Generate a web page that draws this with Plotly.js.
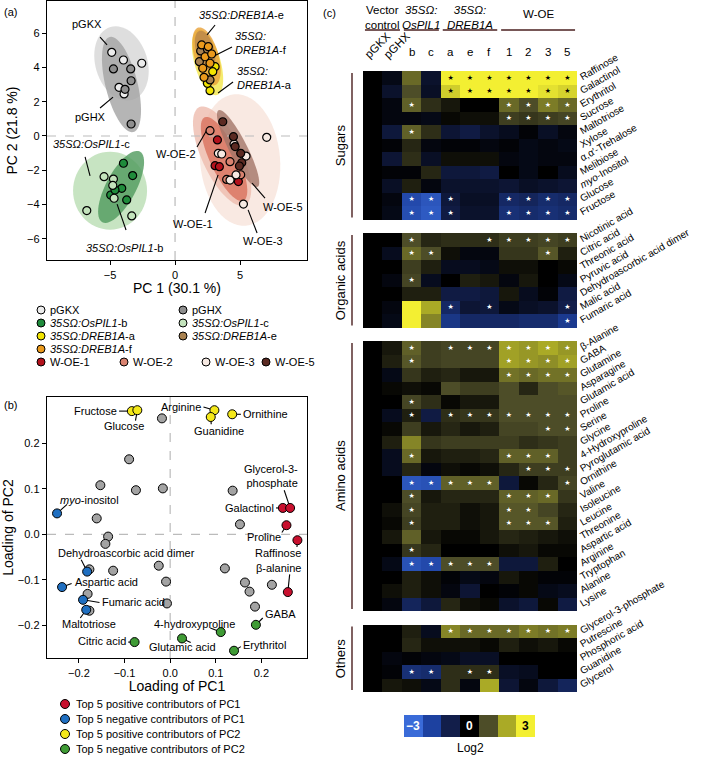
<!DOCTYPE html>
<html>
<head>
<meta charset="utf-8">
<script src="https://cdn.plot.ly/plotly-3.0.1.min.js"></script>
<style>body{margin:0;background:#fff}</style>
</head>
<body>
<div id="fig" style="width:709px;height:757px"></div>
<script>
const W = 709, H = 757;

// ---------- (a) PCA scores ----------
const scoreGroups = ['pGKX', 'pGHX', '<i>35SΩ:OsPIL1</i>-b', '<i>35SΩ:OsPIL1</i>-c',
  '<i>35SΩ:DREB1A</i>-a', '<i>35SΩ:DREB1A</i>-e', '<i>35SΩ:DREB1A</i>-f',
  'W-OE-1', 'W-OE-2', 'W-OE-3', 'W-OE-5'];
const scoreColors = ['#ececec', '#8e8e8e', '#1f8b3b', '#c3e3bc', '#f2e400', '#a8814f', '#eb9a1c',
  '#b3121c', '#d9826f', '#f6e9e2', '#5b2a22'];
const scoreX = [
  [-4.87, -3.97, -2.56, -4.31, -3.92],
  [-4.74, -3.41, -3.38, -3.85, -3.38],
  [-3.97, -3.26, -4.10, -4.95, -3.72, -4.62],
  [-5.46, -4.74, -4.79, -4.69, -6.79, -3.33],
  [3.08, 2.69, 2.49, 2.90],
  [1.97, 2.49, 1.87, 2.69],
  [2.05, 2.56, 2.31, 2.82, 2.69, 2.13, 2.23],
  [3.26, 3.08, 3.41, 4.87],
  [2.69, 4.23, 3.97, 5.05],
  [3.33, 3.59, 4.54, 5.46, 4.69, 5.26, 7.05, 4.23],
  [3.67, 4.49, 4.62, 5.05, 5.13, 4.95]
];
const scoreY = [
  [4.88, 4.43, 4.24, 2.84, 2.45],
  [3.91, 3.91, 3.22, 2.72, 0.70],
  [-1.59, -2.31, -3.05, -3.44, -3.73, -3.15],
  [-2.37, -2.51, -2.88, -3.63, -4.35, -4.66],
  [4.04, 2.64, 3.07, 3.75],
  [4.96, 5.05, 4.33, 3.27],
  [5.31, 5.21, 4.62, 4.78, 4.24, 3.95, 3.42],
  [-0.23, -1.73, -1.79, -2.66],
  [0.31, -1.50, -2.53, -2.26],
  [-1.01, -1.05, -0.47, -1.17, -2.27, -3.97, -0.08, -2.57],
  [0.83, -0.04, -0.62, -1.01, -1.56, -1.75]
];

// ---------- (b) loadings ----------
const posPC1X = [0.247, 0.263, 0.255, 0.279, 0.258];
const posPC1Y = [0.058, 0.058, 0.020, -0.013, -0.127];
const negPC1X = [-0.248, -0.182, -0.237, -0.191, -0.184];
const negPC1Y = [0.046, -0.082, -0.116, -0.144, -0.166];
const posPC2X = [-0.084, -0.072, 0.097, 0.089, 0.136];
const posPC2Y = [0.271, 0.273, 0.273, 0.258, 0.264];
const negPC2X = [-0.078, 0.026, 0.111, 0.140, 0.188];
const negPC2Y = [-0.237, -0.229, -0.215, -0.256, -0.199];
const otherX = [-0.018, -0.090, -0.153, -0.075, -0.016, -0.161, -0.136, -0.142, -0.177, -0.125, -0.025,
  -0.009, -0.181, -0.177, -0.007, 0.137, 0.153, 0.120, 0.164, 0.174, 0.186, 0.223];
const otherY = [0.255, 0.165, 0.108, 0.097, 0.101, 0.035, -0.005, -0.021, -0.077, -0.080, -0.069,
  -0.104, -0.131, -0.168, -0.152, 0.096, 0.022, -0.075, -0.106, -0.126, -0.159, -0.111];
const loadNames = ['Top 5 positive contributors of PC1', 'Top 5 negative contributors of PC1',
  'Top 5 positive contributors of PC2', 'Top 5 negative contributors of PC2'];
const loadColors = ['#c8102e', '#1f6fc1', '#f4e81a', '#3f9b35'];

// ---------- (c) heatmap ----------
const cols = ['pGKX', 'pGHX', 'b', 'c', 'a', 'e', 'f', '1', '2', '3', '5'];
const groupNames = ['Sugars', 'Organic acids', 'Amino acids', 'Others'];

const sugarNames = ['Raffinose', 'Galactinol', 'Erythritol', 'Sucrose', 'Maltotriose', 'Xylose',
  'α,α′-Trehalose', 'Melibiose', '<i>myo</i>-Inositol', 'Glucose', 'Fructose'];
const sugarVals = [
  [0, -0.3, 1.3, -0.6, 3, 3, 3, 3, 3, 3, 3],
  [0, -0.6, 1.0, -0.5, 2.5, 3, 3, 3, 3, 2.8, 2.6],
  [0, -0.2, 1.2, 0.6, 0.3, 0, 0, 1.3, 1.0, 1.5, 1.3],
  [0, -0.2, -0.2, -0.3, 0.1, 0.2, 0.2, 0.8, 0.7, 0.8, 0.9],
  [0, -0.8, 1.2, 0.6, -0.7, -0.9, -0.6, -0.4, -0.1, -0.5, -0.2],
  [0, -0.1, 0.5, -0.2, -0.1, -0.1, -0.2, -0.1, -0.3, -0.2, -0.3],
  [0, -0.7, 0.6, -0.5, 0.2, 0.2, 0.2, -0.2, -0.3, -0.2, -0.2],
  [0, -0.1, -0.1, 0.5, -0.8, -0.8, -0.9, 0, -0.3, 0, -0.4],
  [0, -0.5, 0.4, -0.2, -0.6, -0.6, -0.6, -0.7, -0.5, -0.6, -0.7],
  [0, -0.2, -2.2, -2.5, -0.8, -0.5, -0.5, -1.3, -1.2, -1.4, -1.3],
  [0, -0.3, -2.3, -2.6, -0.9, -0.6, -0.6, -1.5, -1.4, -1.5, -1.4]
];
const sugarStars = ['00001111111', '00001111111', '00100001111', '00000001111', '00100000000',
  '00000000000', '00000000000', '00000000000', '00000000000', '00111001111', '00111001111'];

const organicNames = ['Nicotinic acid', 'Citric acid', 'Threonic acid', 'Pyruvic acid',
  'Dehydroascorbic acid dimer', 'Malic acid', 'Fumaric acid'];
const organicVals = [
  [0, 0, 1.0, 0.5, 0.6, 0.6, 0.6, 0.8, 0.8, 0.9, 0.8],
  [0, -0.4, 1.3, 1.0, 0.2, -0.2, -0.2, 0.7, 0.7, 1.1, 0.4],
  [0, 0, 0.8, 0.4, -0.4, -0.4, -0.3, 0.2, 0.2, 0, 0.1],
  [0, -0.2, 0.9, -0.4, 0, 0.4, 0.3, -0.2, 0.3, 0, -0.3],
  [0, 0, 0.4, 0.4, -0.9, -0.9, -0.8, 0.3, -0.4, -0.1, -0.9],
  [0, -0.2, 3.0, 2.0, -1.3, -0.7, -0.8, -0.3, -0.5, -0.6, -1.0],
  [0, -0.3, 3.0, 1.6, -1.7, -1.3, -1.3, -1.3, -1.4, -1.4, -1.8]
];
const organicStars = ['00100011111', '00110000010', '00000000000', '00100000000', '00000000000',
  '00001010001', '00000000001'];

const aminoNames = ['β-Alanine', 'GABA', 'Glutamine', 'Asparagine', 'Glutamic acid', 'Proline', 'Serine',
  'Glycine', '4-Hydroxyproline', 'Pyroglutamic acid', 'Ornithine', 'Valine', 'Isoleucine', 'Leucine',
  'Threonine', 'Aspartic acid', 'Arginine', 'Tryptophan', 'Alanine', 'Lysine'];
const aminoVals = [
  [0, 0.3, 1.2, 0.8, 0.9, 0.9, 0.9, 1.9, 1.8, 2.0, 1.8],
  [0, 0.4, 1.1, 0.8, 0.9, 0.9, 0.9, 1.9, 1.8, 1.7, 1.9],
  [0, -0.3, 0.7, 0.4, 0.5, 0.3, 0.3, 1.4, 1.3, 1.4, 1.4],
  [0, 0.1, 0.2, 0.1, 1.0, 0.8, 0.8, 1.0, 0.5, 1.0, 1.1],
  [0, 0, 0.9, 0.6, 0.1, 0.3, 0.3, 1.0, 1.0, 1.0, 1.0],
  [0, -0.4, 0.4, -0.9, 0.6, 0.7, 0.7, 1.0, 1.0, 1.0, 1.0],
  [0, 0.1, 0.8, 0.3, 0.5, 0.3, 0.4, 0.9, 0.9, 1.0, 1.0],
  [0, 0.4, 1.6, 0.7, 0.8, 0.8, 0.8, 0.8, 0.6, 0.7, 0.8],
  [0, -0.4, 1.3, 0.3, 0.4, 0.4, 0.5, 1.2, 1.2, 1.2, 0.8],
  [0, -0.4, 0.5, -0.2, 0.2, 0.1, 0.2, 0.5, 0.8, 0.8, 0.8],
  [0, 0, -2.5, -2.4, 1.2, 1.2, 1.2, -0.8, 0.1, 0.5, 0.9],
  [0, 0, 1.0, 0.3, 0.5, 0.5, 0.5, 1.2, 1.2, 1.3, 0.7],
  [0, 0.2, 0.9, 0.4, 0.4, 0.2, 0.3, 1.1, 1.1, 0.9, 0.5],
  [0, 0.1, 0.8, 0.4, 0.4, 0.2, 0.3, 1.1, 1.1, 1.1, 0.4],
  [0, 0.3, 1.2, 0.3, 0.1, 0.1, 0.3, 0.5, 0.4, 0.3, 0.2],
  [0, 0, 0.7, 0.5, 0, 0, 0, 0.2, 0.3, 0.1, 0.1],
  [0, -0.3, -2.4, -2.2, 1.0, 1.0, 1.0, -0.8, -0.8, 0.4, 0],
  [0, 0, 0.4, 0.2, -0.1, -0.3, -0.2, 0.3, 0.1, -0.1, -0.1],
  [0, 0.2, 0.4, 0.2, -0.2, -0.7, 0, -0.1, 0.1, -0.3, -0.4],
  [0, -0.2, -1.2, -0.8, 0.5, 0.2, 0.1, -0.6, -0.8, 0.1, -0.9]
];
const aminoStars = ['00101111111', '00100001111', '00000001111', '00000000000', '00100000000',
  '00101111111', '00000000011', '00000000000', '00100001110', '00000000111', '00111110001',
  '00100001110', '00100001100', '00100001110', '00000000000', '00100000000', '00111110000',
  '00000000000', '00000000000', '00000000000'];

const otherNames = ['Glycerol-3-phosphate', 'Putrescine', 'Phosphoric acid', 'Guanidine', 'Glycerol'];
const otherVals = [
  [0, 0, 0.4, -0.4, 1.6, 1.3, 1.3, 1.3, 1.5, 1.4, 1.5],
  [0, 0, 0.5, 0.2, 0.2, 0.2, 0.1, 0.4, 0.2, 0.3, 0.1],
  [0, -0.2, -0.1, -0.2, -0.3, -0.5, -0.5, 0, 0, 0, 0],
  [0, -0.1, -1.5, -1.4, 0.6, 0.6, 0.6, -0.5, -0.4, 0, 0],
  [0, 0.3, 0.2, -0.3, 0.6, -0.2, 2.0, -0.7, -0.2, -0.8, -1.2]
];
const otherStars = ['00001111111', '00000000000', '00000000000', '00110110000', '00000000000'];

const barVals = [-3, -2, -1, 0, 1, 2, 3];

// ---------- helpers ----------
const xp = px => px / W;
const yp = py => 1 - py / H;
const font = 'Liberation Sans, Arial, sans-serif';

const heatScale = [
  [0, '#3a6bd8'], [0.1667, '#1d41a0'], [0.3333, '#121e4a'], [0.5, '#000000'],
  [0.6667, '#4d4d28'], [0.8333, '#aaaa26'], [1, '#f3ef32']
];

// build heatmap rows with one empty row between groups
const groups = [
  [sugarNames, sugarVals, sugarStars],
  [organicNames, organicVals, organicStars],
  [aminoNames, aminoVals, aminoStars],
  [otherNames, otherVals, otherStars]
];
const z = [], rowIdx = [], rowText = [], starX = [], starY = [], starCol = [], groupSpan = [];
let r = 0;
groups.forEach((g, gi) => {
  const start = r;
  g[0].forEach((name, i) => {
    z.push(g[1][i]);
    rowIdx.push(r);
    rowText.push(name);
    g[2][i].split('').forEach((s, c) => {
      if (s === '1') {
        starX.push(c); starY.push(r);
        starCol.push(g[1][i][c] > 2.2 ? '#000' : '#fff');
      }
    });
    r++;
  });
  groupSpan.push([start, r - 1]);
  if (gi < groups.length - 1) { z.push(new Array(cols.length).fill(null)); r++; }
});
const nRows = r;

// axis geometry (pixels)
const A = {x0: 47, x1: 307, y0: 1, y1: 260, xr: [-9.85, 10.15], yr: [-7.23, 7.87]};
const B = {x0: 47, x1: 307, y0: 397, y1: 658, xr: [-0.27, 0.30], yr: [-0.272, 0.302]};
const kx = (A.x1 - A.x0) / (A.xr[1] - A.xr[0]);
const ky = (A.y1 - A.y0) / (A.yr[1] - A.yr[0]);

// confidence ellipses: group index, centre (data), semi-axes (px), tilt from vertical (deg)
const ellipses = [
  [0, -4.12, 4.23, 38, 26, -17, '#d6d6d6'],
  [1, -4.12, 3.00, 49, 16, -14, '#a3a3a3'],
  [3, -5.00, -3.19, 39, 37, 0, '#b9ddb3'],
  [2, -4.15, -2.97, 40, 15, 28, '#4f9a5c'],
  [9, 5.00, -1.40, 66, 40, -5, '#f7e3db'],
  [8, 3.62, -1.17, 54, 20, -25, '#eebcae'],
  [7, 3.77, -1.34, 46, 14, -25, '#d9705d'],
  [10, 4.85, -0.73, 43, 9, -27, '#a27468'],
  [4, 2.50, 4.29, 34, 13, -16, '#f3e64a'],
  [6, 2.42, 4.64, 30, 12, -16, '#e8a13a'],
  [5, 2.31, 5.01, 20, 9, -16, '#b9864a']
];
function ellipsePath(cx, cy, a, b, deg) {
  const t = deg * Math.PI / 180;
  let d = '';
  for (let i = 0; i <= 60; i++) {
    const u = i / 60 * 2 * Math.PI;
    const ox = a * Math.cos(u) * Math.sin(t) + b * Math.sin(u) * Math.cos(t);
    const oy = a * Math.cos(u) * Math.cos(t) - b * Math.sin(u) * Math.sin(t);
    d += (i ? ' L' : 'M') + (cx + ox / kx).toFixed(3) + ',' + (cy + oy / ky).toFixed(3);
  }
  return d + ' Z';
}

// labels with leader lines: text, x, y, xanchor, [x0,y0,x1,y1]
const labelsA = [
  ['pGKX', -6.77, 6.53, 'center', [-5.77, 5.77, -5.23, 5.31]],
  ['pGHX', -6.5, 1.11, 'center', [-5.77, 1.63, -4.77, 2.27]],
  ['<i>35SΩ:OsPIL1</i>-c', -6.42, -0.47, 'center', [-6.92, -1.22, -6.54, -2.33]],
  ['<i>35SΩ:OsPIL1</i>-b', -3.88, -6.53, 'center', [-4.46, -3.97, -3.77, -5.48]],
  ['<i>35SΩ:DREB1A</i>-e', 1.69, 7.06, 'left', [2.46, 5.89, 3.08, 6.47]],
  ['<i>35SΩ:</i><br><i>DREB1A</i>-f', 4.46, 5.42, 'left', [2.85, 4.61, 4.38, 5.19]],
  ['<i>35SΩ:</i><br><i>DREB1A</i>-a', 4.62, 3.38, 'left', [3.31, 2.51, 4.46, 3.15]],
  ['W-OE-2', 0.08, -1.05, 'center', [1.69, -0.64, 2.54, 0.47]],
  ['W-OE-1', 1.35, -5.13, 'center', [3.31, -2.27, 2.31, -4.49]],
  ['W-OE-3', 6.73, -6.12, 'center', [5.62, -4.31, 6.31, -5.66]],
  ['W-OE-5', 8.31, -4.14, 'center', [5.92, -2.74, 6.92, -3.62]]
];
const labelsB = [
  ['Fructose', -0.113, 0.271, 'right', [-0.112, 0.271, -0.084, 0.271]],
  ['Glucose', -0.101, 0.238, 'center', [-0.072, 0.273, -0.076, 0.250]],
  ['Arginine', 0.072, 0.280, 'right', [0.073, 0.280, 0.097, 0.273]],
  ['Guanidine', 0.107, 0.228, 'center', [0.089, 0.258, 0.090, 0.242]],
  ['Ornithine', 0.155, 0.264, 'left', [0.136, 0.264, 0.155, 0.264]],
  ['Glycerol-3-<br>phosphate', 0.284, 0.128, 'right', [0.263, 0.058, 0.250, 0.097]],
  ['Galactinol', 0.232, 0.058, 'right', [0.232, 0.058, 0.247, 0.058]],
  ['Proline', 0.247, -0.006, 'right', [0.245, 0.004, 0.255, 0.020]],
  ['Raffinose', 0.291, -0.041, 'right', [0.278, -0.028, 0.279, -0.013]],
  ['β-alanine', 0.291, -0.074, 'right', [0.262, -0.088, 0.258, -0.127]],
  ['GABA', 0.204, -0.175, 'left', [0.203, -0.184, 0.188, -0.199]],
  ['Erythritol', 0.155, -0.243, 'left', [0.140, -0.256, 0.155, -0.247]],
  ['4-hydroxyproline', 0.147, -0.197, 'right', [0.088, -0.206, 0.111, -0.215]],
  ['Glutamic acid', 0.028, -0.247, 'center', [0.026, -0.229, 0.045, -0.238]],
  ['Citric acid', -0.092, -0.235, 'right', [-0.092, -0.237, -0.078, -0.237]],
  ['Maltotriose', -0.178, -0.197, 'center', [-0.197, -0.184, -0.184, -0.166]],
  ['Fumaric acid', -0.153, -0.149, 'left', [-0.191, -0.144, -0.155, -0.150]],
  ['Aspartic acid', -0.214, -0.105, 'left', [-0.237, -0.116, -0.216, -0.108]],
  ['Dehydroascorbic acid dimer', -0.095, -0.041, 'center', [-0.195, -0.056, -0.182, -0.082]],
  ['<i>myo</i>-inositol', -0.245, 0.075, 'left', [-0.248, 0.046, -0.226, 0.066]]
];

// ---------- traces ----------
const data = [];
scoreGroups.forEach((g, i) => {
  data.push({
    type: 'scatter', mode: 'markers', x: scoreX[i], y: scoreY[i], xaxis: 'x', yaxis: 'y',
    marker: {size: 8, color: scoreColors[i], line: {color: '#000', width: 1.2}}, showlegend: false
  });
});
data.push({
  type: 'scatter', mode: 'markers', x: otherX, y: otherY, xaxis: 'x2', yaxis: 'y2',
  marker: {size: 9, color: '#a3a3a3', line: {color: '#000', width: 1}}, showlegend: false
});
[[posPC1X, posPC1Y], [negPC1X, negPC1Y], [posPC2X, posPC2Y], [negPC2X, negPC2Y]].forEach((p, i) => {
  data.push({
    type: 'scatter', mode: 'markers', x: p[0], y: p[1], xaxis: 'x2', yaxis: 'y2',
    marker: {size: 9, color: loadColors[i], line: {color: '#000', width: 1}}, showlegend: false
  });
});
data.push({
  type: 'heatmap', z: z, x: cols.map((c, i) => i), y: z.map((row, i) => i), xaxis: 'x3', yaxis: 'y3',
  colorscale: heatScale, zmin: -3, zmax: 3, showscale: false, hoverongaps: false
});
data.push({
  type: 'scatter', mode: 'text', x: starX, y: starY, text: starX.map(() => '★'), xaxis: 'x3', yaxis: 'y3',
  textposition: 'middle center', textfont: {size: 7, color: starCol, family: 'DejaVu Sans'}, showlegend: false
});
data.push({
  type: 'heatmap', z: [barVals], x: barVals.map((v, i) => i), y: [0], xaxis: 'x4', yaxis: 'y4',
  colorscale: heatScale, zmin: -3, zmax: 3, showscale: false
});

// ---------- layout ----------
const axBase = {
  showline: true, mirror: true, linecolor: '#000', linewidth: 1.3, ticks: 'outside', ticklen: 4,
  tickcolor: '#000', tickwidth: 1, showgrid: false, zeroline: false, tickfont: {size: 11, color: '#000'}
};
const shapes = [], annotations = [];

ellipses.forEach(e => {
  shapes.push({type: 'path', xref: 'x', yref: 'y', layer: 'below', path: ellipsePath(e[1], e[2], e[3], e[4], e[5]),
    fillcolor: e[6], opacity: 0.8, line: {width: 0}});
});
// dashed zero lines
shapes.push({type: 'line', xref: 'x', yref: 'y', layer: 'below', x0: 0, x1: 0, y0: A.yr[0], y1: A.yr[1], line: {color: '#bbb', width: 1.2, dash: 'dash'}});
shapes.push({type: 'line', xref: 'x', yref: 'y', layer: 'below', x0: A.xr[0], x1: A.xr[1], y0: 0, y1: 0, line: {color: '#bbb', width: 1.2, dash: 'dash'}});
shapes.push({type: 'line', xref: 'x2', yref: 'y2', layer: 'below', x0: 0, x1: 0, y0: B.yr[0], y1: B.yr[1], line: {color: '#bbb', width: 1.2, dash: 'dash'}});
shapes.push({type: 'line', xref: 'x2', yref: 'y2', layer: 'below', x0: B.xr[0], x1: B.xr[1], y0: 0, y1: 0, line: {color: '#bbb', width: 1.2, dash: 'dash'}});

[[labelsA, 'x', 'y'], [labelsB, 'x2', 'y2']].forEach(([labs, xr, yr]) => {
  labs.forEach(l => {
    annotations.push({xref: xr, yref: yr, x: l[1], y: l[2], text: l[0], xanchor: l[3], yanchor: 'middle',
      showarrow: false, align: l[3] === 'right' ? 'right' : 'left', font: {size: 11, color: '#000'}});
    const s = l[4];
    shapes.push({type: 'line', xref: xr, yref: yr, layer: 'below', x0: s[0], y0: s[1], x1: s[2], y1: s[3],
      line: {color: '#000', width: 1.1}});
  });
});

// legend (a)
const legPosA = [[41, 310], [183, 310], [41, 323], [183, 323], [41, 336], [183, 336], [41, 349],
  [41, 362], [124, 362], [206, 362], [266, 362]];
scoreGroups.forEach((g, i) => {
  const [cx, cy] = legPosA[i];
  shapes.push({type: 'circle', xref: 'paper', yref: 'paper', x0: xp(cx - 4), x1: xp(cx + 4), y0: yp(cy + 4), y1: yp(cy - 4),
    fillcolor: scoreColors[i], line: {color: '#000', width: 1}});
  annotations.push({xref: 'paper', yref: 'paper', x: xp(cx + 7), y: yp(cy), text: g, xanchor: 'left', yanchor: 'middle',
    showarrow: false, font: {size: 11, color: '#000'}});
});
// legend (b)
loadNames.forEach((n, i) => {
  const cx = 65, cy = 704 + 15 * i;
  shapes.push({type: 'circle', xref: 'paper', yref: 'paper', x0: xp(cx - 4.5), x1: xp(cx + 4.5), y0: yp(cy + 4.5), y1: yp(cy - 4.5),
    fillcolor: loadColors[i], line: {color: '#000', width: 1}});
  annotations.push({xref: 'paper', yref: 'paper', x: xp(cx + 9), y: yp(cy), text: n, xanchor: 'left', yanchor: 'middle',
    showarrow: false, font: {size: 11, color: '#000'}});
});

// panel letters
[['(a)', 10, 12], ['(b)', 10, 405], ['(c)', 329, 13]].forEach(p => {
  annotations.push({xref: 'paper', yref: 'paper', x: xp(p[1]), y: yp(p[2]), text: p[0], showarrow: false,
    xanchor: 'center', yanchor: 'middle', font: {size: 11, color: '#000'}});
});

// heatmap header
const colGroups = [
  ['Vector<br>control', 0, 1], ['<i>35SΩ:</i><br><i>OsPIL1</i>', 2, 3],
  ['<i>35SΩ:</i><br><i>DREB1A</i>', 4, 6], ['W-OE', 7, 10]
];
colGroups.forEach(g => {
  annotations.push({xref: 'x3', yref: 'paper', x: (g[1] + g[2]) / 2, y: yp(g[0] === 'W-OE' ? 14 : 18), text: g[0],
    showarrow: false, xanchor: 'center', yanchor: 'middle', font: {size: 11.5, color: '#000'}});
  shapes.push({type: 'line', xref: 'x3', yref: 'paper', x0: g[1] - 0.4, x1: g[2] + 0.4, y0: yp(30), y1: yp(30),
    line: {color: '#4a1f1f', width: 1.4}});
});
cols.forEach((c, i) => {
  const rot = i < 2;
  annotations.push({xref: 'x3', yref: 'paper', x: i, y: yp(rot ? 45 : 52), text: c, showarrow: false,
    textangle: rot ? -45 : 0, xshift: rot ? 5 : 0, xanchor: 'center', yanchor: 'middle', font: {size: 11.5, color: '#000'}});
});
groupNames.forEach((g, i) => {
  const [a, b] = groupSpan[i];
  annotations.push({xref: 'paper', yref: 'y3', x: xp(340), y: (a + b) / 2, text: g, textangle: -90, showarrow: false,
    xanchor: 'center', yanchor: 'middle', font: {size: 13, color: '#000'}});
  shapes.push({type: 'line', xref: 'paper', yref: 'y3', x0: xp(352), x1: xp(352), y0: a - 0.35, y1: b + 0.35,
    line: {color: '#4a1f1f', width: 1.4}});
});
// colour bar labels
[[0, '−3', '#fff'], [3, '0', '#fff'], [6, '3', '#000']].forEach(t => {
  annotations.push({xref: 'x4', yref: 'y4', x: t[0], y: 0, text: '<b>' + t[1] + '</b>', showarrow: false,
    font: {size: 12, color: t[2]}});
});
annotations.push({xref: 'paper', yref: 'paper', x: xp(470), y: yp(748), text: 'Log2', showarrow: false,
  xanchor: 'center', yanchor: 'middle', font: {size: 12, color: '#000'}});

const layout = {
  width: W, height: H, margin: {l: 0, r: 0, t: 0, b: 0},
  paper_bgcolor: '#fff', plot_bgcolor: 'rgba(0,0,0,0)',
  font: {family: font, color: '#000'}, showlegend: false,
  xaxis: Object.assign({}, axBase, {domain: [xp(A.x0), xp(A.x1)], range: A.xr, anchor: 'y',
    tickvals: [-5, 0, 5], title: {text: 'PC 1 (30.1 %)', font: {size: 14}, standoff: 3}}),
  yaxis: Object.assign({}, axBase, {domain: [yp(A.y1), yp(A.y0)], range: A.yr, anchor: 'x',
    tickvals: [-6, -4, -2, 0, 2, 4, 6], title: {text: 'PC 2 (21.8 %)', font: {size: 14}, standoff: 6}}),
  xaxis2: Object.assign({}, axBase, {domain: [xp(B.x0), xp(B.x1)], range: B.xr, anchor: 'y2',
    tickvals: [-0.2, -0.1, 0, 0.1, 0.2], tickformat: '.1f', title: {text: 'Loading of PC1', font: {size: 14}, standoff: 3}}),
  yaxis2: Object.assign({}, axBase, {domain: [yp(B.y1), yp(B.y0)], range: B.yr, anchor: 'x2',
    tickvals: [-0.2, -0.1, 0, 0.1, 0.2], tickformat: '.1f', title: {text: 'Loading of PC2', font: {size: 14}, standoff: 5}}),
  xaxis3: {domain: [xp(363), xp(577)], range: [-0.5, cols.length - 0.5], anchor: 'y3', visible: false},
  yaxis3: {domain: [yp(692), yp(71)], range: [nRows - 0.5, -0.5], anchor: 'x3', side: 'right',
    tickvals: rowIdx, ticktext: rowText, tickangle: -30, ticks: '', showline: false, showgrid: false,
    zeroline: false, tickfont: {size: 10, color: '#000'}, ticklabelstandoff: 2},
  xaxis4: {domain: [xp(404), xp(535)], range: [-0.5, barVals.length - 0.5], anchor: 'y4', visible: false},
  yaxis4: {domain: [yp(737), yp(715)], range: [-0.5, 0.5], anchor: 'x4', visible: false},
  shapes: shapes, annotations: annotations
};

Plotly.newPlot('fig', data, layout, {staticPlot: true});
</script>
</body>
</html>
